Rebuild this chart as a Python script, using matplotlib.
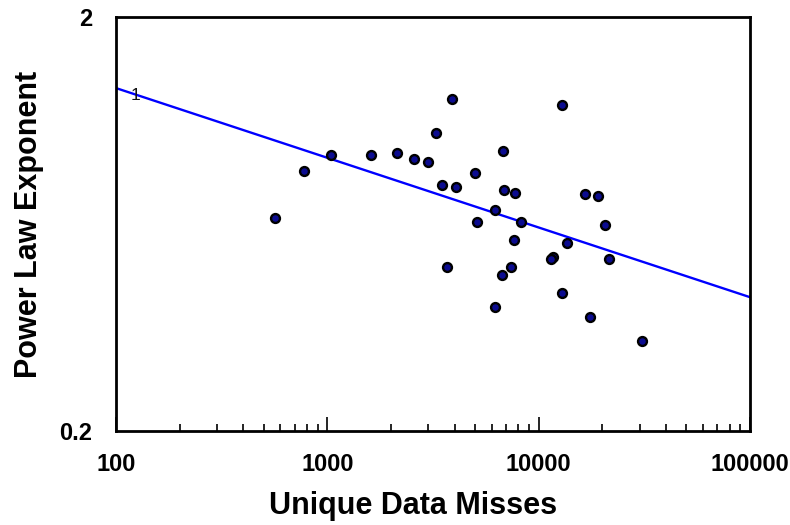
import numpy as np
import matplotlib
matplotlib.use('Agg')
import matplotlib.pyplot as plt
from matplotlib.ticker import LogLocator, NullFormatter, FixedLocator, FixedFormatter

plt.rcParams['font.family'] = ['Liberation Sans', 'DejaVu Sans']

# scatter points
misses = [566, 776, 1041, 1610, 2137, 2573, 2997, 3269, 3891, 3490,
          4066, 5000, 3686, 5111, 6785, 6860, 7731, 6218, 8253, 7648,
          7402, 6711, 6218, 11700, 11450, 12900, 13630, 12900, 16580, 19100,
          20620, 21540, 17520, 30860]
exponent = [0.654, 0.849, 0.928, 0.928, 0.939, 0.908, 0.893, 1.049, 1.268, 0.786,
            0.777, 0.840, 0.498, 0.639, 0.949, 0.764, 0.751, 0.684, 0.639, 0.579,
            0.498, 0.476, 0.399, 0.526, 0.521, 1.226, 0.569, 0.431, 0.747, 0.739,
            0.629, 0.521, 0.377, 0.330]

# fitted line end points
fit_x = [100, 100000]
fit_y = [1.347, 0.421]

fig = plt.figure(figsize=(7.9, 5.25), dpi=100)
ax = fig.add_axes([0.1468, 0.179, 0.9494 - 0.1468, 0.9676 - 0.179])

ax.plot(fit_x, fit_y, color='#0000ff', lw=1.7, zorder=2)
ax.plot(misses, exponent, 'o', ms=6.4, mfc='#0c0c90', mec='black', mew=1.7, zorder=3)
ax.text(124, 1.289, '1', fontsize=12.5, ha='center', va='center', color='#111111', zorder=4)

ax.set_xscale('log')
ax.set_yscale('log')
ax.set_xlim(100, 100000)
ax.set_ylim(0.2, 2)

ax.xaxis.set_major_locator(FixedLocator([100, 1000, 10000, 100000]))
ax.xaxis.set_major_formatter(FixedFormatter(['100', '1000', '10000', '100000']))
ax.xaxis.set_minor_locator(LogLocator(base=10, subs=np.arange(2, 10)))
ax.xaxis.set_minor_formatter(NullFormatter())
ax.yaxis.set_major_locator(FixedLocator([0.2, 2]))
ax.yaxis.set_major_formatter(FixedFormatter(['0.2', '2']))
ax.yaxis.set_minor_locator(FixedLocator([]))

ax.tick_params(axis='x', which='major', direction='in', length=10, width=1.2,
               labelsize=17, pad=16)
ax.tick_params(axis='x', which='minor', direction='in', length=5, width=1.2)
ax.tick_params(axis='y', which='both', length=0, labelsize=17, pad=17)
for lab in ax.get_xticklabels() + ax.get_yticklabels():
    lab.set_fontweight('bold')

for s in ax.spines.values():
    s.set_linewidth(2)
    s.set_color('black')

ax.set_xlabel('Unique Data Misses', fontsize=22, fontweight='bold')
ax.set_ylabel('Power Law Exponent', fontsize=22, fontweight='bold')
ax.xaxis.set_label_coords(0.468, -0.145)
ax.yaxis.set_label_coords(-0.114, 0.498)

fig.savefig('out.png', dpi=100)
